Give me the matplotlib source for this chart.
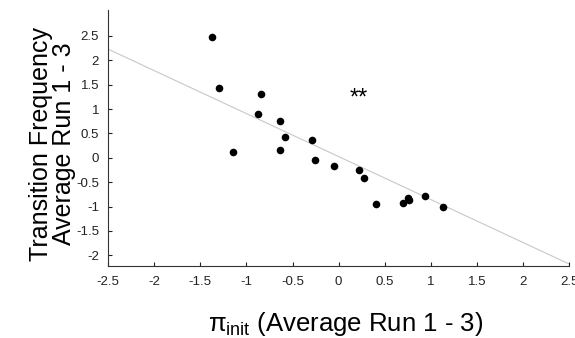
import matplotlib
matplotlib.use("Agg")
import matplotlib.pyplot as plt
import numpy as np

plt.rcParams['font.family'] = ['Liberation Sans', 'DejaVu Sans']
plt.rcParams['axes.unicode_minus'] = False
plt.rcParams['mathtext.fontset'] = 'custom'
plt.rcParams['mathtext.rm'] = 'Liberation Sans'
plt.rcParams['mathtext.it'] = 'Liberation Sans'

# data
pi_init = [-1.374, -1.297, -1.148, -0.843, -0.880, -0.634, -0.583, -0.634,
           -0.289, -0.261, -0.054, 0.217, 0.279, 0.406, 0.700, 0.754, 0.761,
           0.935, 1.135]
trans_freq = [2.48, 1.43, 0.11, 1.31, 0.895, 0.758, 0.43, 0.158,
              0.357, -0.053, -0.164, -0.246, -0.416, -0.943, -0.92, -0.826, -0.874,
              -0.785, -1.004]
# fitted line as drawn in the reference (slope, intercept)
fit_coef = [-0.882, 0.025]
x_ticks = [-2.5, -2, -1.5, -1, -0.5, 0, 0.5, 1, 1.5, 2, 2.5]
y_ticks = [-2, -1.5, -1, -0.5, 0, 0.5, 1, 1.5, 2, 2.5]
annotation = "**"

fig = plt.figure(figsize=(5.75, 3.38), dpi=100)
ax = fig.add_axes([0.188, 0.213, 0.802, 0.757])

x = np.array(pi_init)
y = np.array(trans_freq)
xl = np.array([-2.5, 2.5])
ax.plot(xl, np.polyval(fit_coef, xl), color='#c8c8c8', lw=0.8, zorder=1)
ax.scatter(x, y, s=30, color='black', zorder=3, linewidths=0)

ax.text(0.22, 1.1, annotation, fontsize=17, ha='center', va='baseline')

ax.set_xlim(-2.5, 2.5)
ax.set_ylim(-2.22, 3.03)
ax.set_xticks(x_ticks)
ax.set_xticklabels([f"{v:g}" for v in x_ticks])
ax.set_yticks(y_ticks)
ax.set_yticklabels([f"{v:g}" for v in y_ticks])
ax.tick_params(direction='in', length=3, width=0.8, labelsize=9.5, colors='#222222')
ax.tick_params(axis='x', pad=7)
ax.tick_params(axis='y', pad=6.5)
for s in ['top', 'right']:
    ax.spines[s].set_visible(False)
for s in ['left', 'bottom']:
    ax.spines[s].set_color('#333333')
    ax.spines[s].set_linewidth(0.8)

ax.set_xlabel(r"$\pi_{\rm init}$ (Average Run 1 - 3)", fontsize=18.5)
ax.xaxis.set_label_coords(0.516, -0.255)
ax.xaxis.label.set_va('baseline')
ax.set_ylabel("Transition Frequency\nAverage Run 1 - 3", fontsize=18, linespacing=0.95)
ax.yaxis.set_label_coords(-0.069, 0.477)

fig.savefig("out.png", dpi=100)
